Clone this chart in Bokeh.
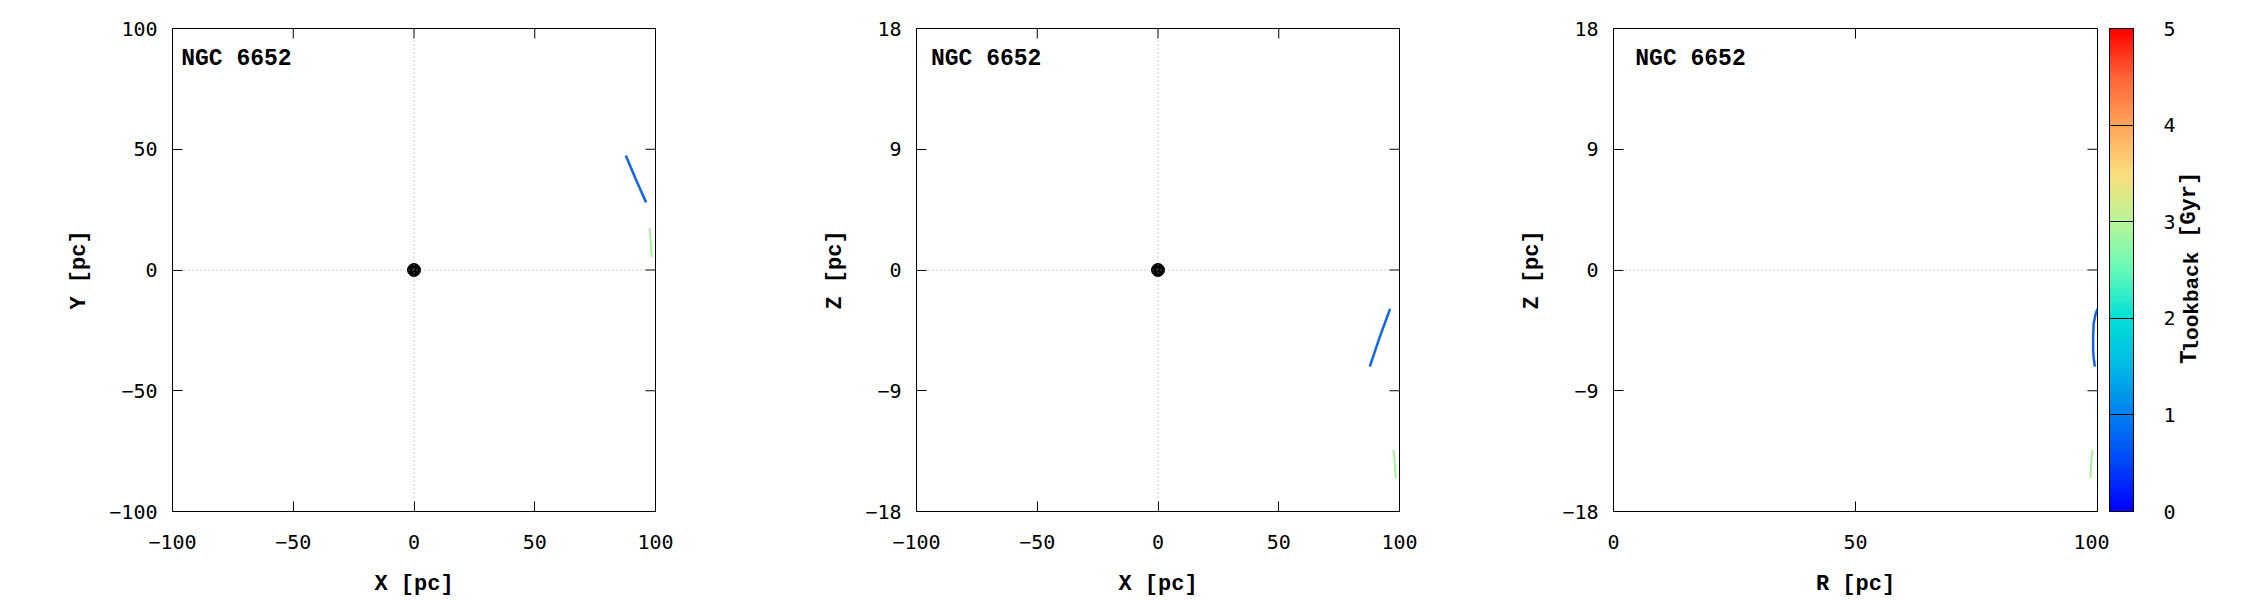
import numpy as np
from bokeh.plotting import figure
from bokeh.models import (FixedTicker, Span, Label, ColorBar,
                          LinearColorMapper, Range1d)
from bokeh.layouts import row
from bokeh.embed import file_html
from bokeh.resources import INLINE

# ---------------- data ----------------
cluster_name = "NGC 6652"

xy_ticks = [-100, -50, 0, 50, 100]
z_ticks = [-18, -9, 0, 9, 18]
r_ticks = [0, 50, 100]
cbar_ticks = [0, 1, 2, 3, 4, 5]

# orbit piece A (lookback ~0.9 Gyr), coordinates in pc
seg_a_x = [87.7, 91.8, 96.1]
seg_a_y = [47.4, 37.7, 28.0]
seg_a_z = [-7.2, -5.0, -2.9]
# orbit piece B (lookback ~2.9 Gyr)
seg_b_x = [97.5, 97.9, 98.1, 98.5]
seg_b_y = [17.4, 13.6, 10.1, 5.3]
seg_b_z = [-13.4, -14.0, -14.6, -15.5]
# the same pieces as read in the R-z panel
seg_a_r = [100.0, 99.6, 99.2, 99.1, 99.1, 99.2, 99.45]
seg_a_rz = [-2.9, -3.3, -4.0, -5.0, -6.0, -6.5, -7.2]
seg_b_r = [99.0, 98.8, 98.7, 98.55]
seg_b_rz = [-13.4, -13.95, -14.45, -15.5]

center_x = [0.0]
center_y = [0.0]

# ---------------- style ----------------
seg_a_color = "#0f64f0"
seg_b_color = "#a8f098"
TICK_FONT = "DejaVu Sans Mono"
LABEL_FONT = "Liberation Mono"
FRAME = 483
TOP = 28
BOTTOM = 81
TICK_LEN = 10

anchors_v = [0.0, 0.5, 1.0, 1.5, 2.0, 2.5, 3.0, 3.5, 4.0, 4.5, 5.0]
anchors_c = [(0, 0, 255), (0, 70, 250), (0, 128, 240), (0, 185, 230),
             (0, 225, 215), (100, 250, 185), (185, 245, 150), (250, 222, 125),
             (255, 165, 90), (255, 100, 55), (255, 0, 0)]
vv = np.linspace(0, 5, 256)
ac = np.array(anchors_c, dtype=float)
palette = []
for v in vv:
    rgb = [int(round(np.interp(v, anchors_v, ac[:, k]))) for k in range(3)]
    palette.append("#%02x%02x%02x" % tuple(rgb))


def style_axis(ax, ticks):
    ax.ticker = FixedTicker(ticks=ticks)
    ax.axis_line_color = None
    ax.major_tick_in = TICK_LEN
    ax.major_tick_out = 0
    ax.major_tick_line_color = "black"
    ax.major_tick_line_width = 1
    ax.minor_tick_line_color = None
    ax.major_label_text_font = TICK_FONT
    ax.major_label_text_font_size = "20px"
    ax.major_label_text_color = "black"
    ax.axis_label_text_font = LABEL_FONT
    ax.axis_label_text_font_size = "22px"
    ax.axis_label_text_font_style = "bold"
    ax.axis_label_text_color = "black"


def make_panel(xr, yr, xt, yt, xlabel, ylabel, bl, br, fw):
    p = figure(frame_width=fw, frame_height=FRAME,
               x_range=Range1d(*xr), y_range=Range1d(*yr),
               output_backend="svg", toolbar_location=None,
               min_border_left=bl, min_border_right=br,
               min_border_top=TOP, min_border_bottom=BOTTOM,
               background_fill_color="white", border_fill_color="white")
    p.xgrid.visible = False
    p.ygrid.visible = False
    p.outline_line_color = "black"
    p.outline_line_width = 1
    style_axis(p.xaxis[0], xt)
    style_axis(p.yaxis[0], yt)
    p.xaxis[0].axis_label = xlabel
    p.yaxis[0].axis_label = ylabel
    p.xaxis[0].major_label_standoff = 23
    p.xaxis[0].axis_label_standoff = 20
    p.yaxis[0].major_label_standoff = 15
    p.yaxis[0].axis_label_standoff = 14
    # mirrored inward ticks on the top and right edges
    dy = TICK_LEN * (yr[1] - yr[0]) / FRAME
    dx = TICK_LEN * (xr[1] - xr[0]) / fw
    p.segment(x0=xt, y0=[yr[1]] * len(xt), x1=xt, y1=[yr[1] - dy] * len(xt),
              line_color="black", line_width=1)
    p.segment(x0=[xr[1]] * len(yt), y0=yt, x1=[xr[1] - dx] * len(yt), y1=yt,
              line_color="black", line_width=1)
    return p


dot_style = dict(line_color="#999999", line_width=1, line_dash="1 3")
name_style = dict(text_font=LABEL_FONT, text_font_size="23px",
                  text_font_style="bold", text_color="black",
                  text_baseline="alphabetic", text_align="left")

# ---- panel 1: X-Y ----
p1 = make_panel((-100, 100), (-100, 100), xy_ticks, xy_ticks,
                "X [pc]", "Y [pc]", 172, 95, FRAME)
p1.add_layout(Span(location=0, dimension="height", **dot_style))
p1.add_layout(Span(location=0, dimension="width", **dot_style))
p1.line(seg_a_x, seg_a_y, line_color=seg_a_color, line_width=2.5)
p1.line(seg_b_x, seg_b_y, line_color=seg_b_color, line_width=2)
p1.scatter(center_x, center_y, size=13, color="black")
p1.add_layout(Label(x=-96.4, y=87.5, text=cluster_name, **name_style))

# ---- panel 2: X-Z ----
p2 = make_panel((-100, 100), (-18, 18), xy_ticks, z_ticks,
                "X [pc]", "Z [pc]", 166, 101, FRAME)
p2.add_layout(Span(location=0, dimension="height", **dot_style))
p2.add_layout(Span(location=0, dimension="width", **dot_style))
p2.line(seg_a_x, seg_a_z, line_color=seg_a_color, line_width=2.5)
p2.line(seg_b_x, seg_b_z, line_color=seg_b_color, line_width=2)
p2.scatter(center_x, center_y, size=13, color="black")
p2.add_layout(Label(x=-94.0, y=15.76, text=cluster_name, **name_style))

# ---- panel 3: R-Z ----
p3 = make_panel((0, 100), (-18, 18), r_ticks, z_ticks,
                "R [pc]", "Z [pc]", 113, 12, 484)
p3.add_layout(Span(location=0, dimension="width", **dot_style))
p3.line(seg_a_r, seg_a_rz, line_color=seg_a_color, line_width=2.5)
p3.line(seg_b_r, seg_b_rz, line_color=seg_b_color, line_width=2)
p3.add_layout(Label(x=4.5, y=15.76, text=cluster_name, **name_style))

# ---- colour bar panel ----
CB_W = 141
p4 = figure(frame_width=CB_W, frame_height=FRAME,
            x_range=Range1d(0, CB_W), y_range=Range1d(0, FRAME),
            output_backend="svg", toolbar_location=None,
            min_border_left=0, min_border_right=0,
            min_border_top=TOP, min_border_bottom=BOTTOM,
            background_fill_color="white", border_fill_color="white")
p4.axis.visible = False
p4.xgrid.visible = False
p4.ygrid.visible = False
p4.outline_line_color = None

mapper = LinearColorMapper(palette=palette, low=0, high=5)
cb = ColorBar(color_mapper=mapper, ticker=FixedTicker(ticks=cbar_ticks),
              location="top_left", orientation="vertical",
              width=24, height=FRAME, padding=0, margin=0,
              major_tick_in=24, major_tick_out=0,
              major_tick_line_color="black", major_tick_line_width=1,
              minor_tick_line_color=None,
              bar_line_color="black", bar_line_width=1,
              border_line_color=None, background_fill_alpha=0,
              label_standoff=30,
              major_label_text_font=TICK_FONT,
              major_label_text_font_size="20px",
              major_label_text_color="black")
p4.add_layout(cb, "center")

lbl_kw = dict(text_font=LABEL_FONT, text_font_style="bold", angle=np.pi / 2,
              text_baseline="alphabetic", text_align="left", text_color="black")
p4.add_layout(Label(x=80, y=147.4, text="T", text_font_size="23px", **lbl_kw))
p4.add_layout(Label(x=83, y=159, text="lookback", text_font_size="21px", **lbl_kw))
p4.add_layout(Label(x=80, y=273.7, text="[Gyr]", text_font_size="22px", **lbl_kw))

layout = row(p1, p2, p3, p4)
open("out.html", "w").write(file_html(layout, INLINE))
